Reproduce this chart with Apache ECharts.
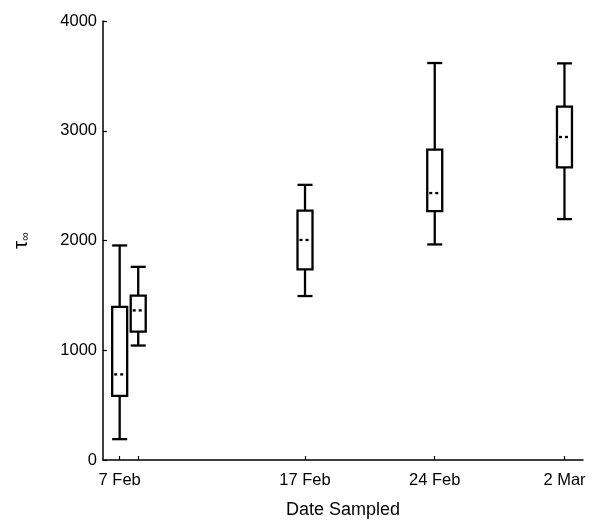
<!DOCTYPE html>
<html>
<head>
<meta charset="utf-8">
<script src="https://cdn.jsdelivr.net/npm/echarts@6/dist/echarts.min.js"></script>
<style>
  html, body { margin: 0; padding: 0; background: #fff; }
  #chart { width: 598px; height: 526px; }
</style>
</head>
<body>
<div id="chart"></div>
<script>
// days counted from 7 Feb (leap year, so 2 Mar is 24 days on)
const sampleDays = [0, 1, 10, 17, 24];
const whiskerLow = [190, 1043, 1494, 1964, 2195];
const q1 = [585, 1170, 1737, 2268, 2666];
const median = [780, 1363, 2005, 2432, 2943];
const q3 = [1395, 1497, 2272, 2828, 3220];
const whiskerHigh = [1955, 1760, 2507, 3617, 3614];

const tickDays = [0, 1, 10, 17, 24];
const labelDays = [0, 10, 17, 24];
const labelText = ['7 Feb', '17 Feb', '24 Feb', '2 Mar'];
const yTicks = [0, 1000, 2000, 3000, 4000];

const font = 'Liberation Sans';
const boxW = 15;

const data = sampleDays.map((d, i) => [d, whiskerLow[i], q1[i], median[i], q3[i], whiskerHigh[i]]);

const myChart = echarts.init(document.getElementById('chart'));

const option = {
  animation: false,
  backgroundColor: '#fff',
  grid: { left: 103, right: 15, top: 21, bottom: 66 },
  xAxis: {
    type: 'value',
    min: -0.9,
    max: 25,
    name: 'Date Sampled',
    nameLocation: 'middle',
    nameGap: 41,
    nameTextStyle: { fontFamily: font, fontSize: 18, color: '#000' },
    axisLine: { onZero: false, lineStyle: { color: '#000', width: 1.5 } },
    axisTick: { inside: true, length: 4, customValues: tickDays, lineStyle: { color: '#000', width: 1.2 } },
    axisLabel: {
      customValues: labelDays,
      margin: 12,
      fontFamily: font,
      fontSize: 16.5,
      color: '#000',
      formatter(v) {
        const i = labelDays.indexOf(v);
        return i >= 0 ? labelText[i] : '';
      },
    },
    splitLine: { show: false },
  },
  yAxis: {
    type: 'value',
    min: 0,
    max: 4000,
    name: '{t|τ}{s|∞}',
    nameLocation: 'middle',
    nameRotate: 90,
    nameGap: 71,
    nameTextStyle: {
      color: '#000',
      rich: {
        t: { fontFamily: font, fontSize: 21, color: '#000' },
        s: { fontFamily: font, fontSize: 12, color: '#000', padding: [10, 0, 0, 0] },
      },
    },
    axisLine: { show: true, onZero: false, lineStyle: { color: '#000', width: 1.5 } },
    axisTick: { show: true, inside: true, length: 4, customValues: yTicks, lineStyle: { color: '#000', width: 1.2 } },
    axisLabel: {
      customValues: yTicks,
      margin: 6,
      fontFamily: font,
      fontSize: 16.5,
      color: '#000',
      formatter: (v) => String(v),
    },
    splitLine: { show: false },
  },
  series: [{
    type: 'custom',
    data,
    renderItem(params, api) {
      const x = api.value(0);
      const pLow = api.coord([x, api.value(1)]);
      const pQ1 = api.coord([x, api.value(2)]);
      const pMed = api.coord([x, api.value(3)]);
      const pQ3 = api.coord([x, api.value(4)]);
      const pHigh = api.coord([x, api.value(5)]);
      const cx = pLow[0];
      const h = boxW / 2;
      const st = { stroke: '#000', lineWidth: 2.3, fill: null };
      return {
        type: 'group',
        children: [
          { type: 'line', shape: { x1: cx, y1: pLow[1], x2: cx, y2: pQ1[1] }, style: st },
          { type: 'line', shape: { x1: cx, y1: pQ3[1], x2: cx, y2: pHigh[1] }, style: st },
          { type: 'line', shape: { x1: cx - h, y1: pLow[1], x2: cx + h, y2: pLow[1] }, style: st },
          { type: 'line', shape: { x1: cx - h, y1: pHigh[1], x2: cx + h, y2: pHigh[1] }, style: st },
          { type: 'rect', shape: { x: cx - h, y: pQ3[1], width: boxW, height: pQ1[1] - pQ3[1] }, style: { stroke: '#000', lineWidth: 2.3, fill: '#fff' } },
          { type: 'line', shape: { x1: cx - h + 2, y1: pMed[1], x2: cx + h - 2, y2: pMed[1] }, style: { stroke: '#000', lineWidth: 2.3, lineDash: [3, 3] } },
        ],
      };
    },
  }],
};

myChart.setOption(option);
</script>
</body>
</html>
